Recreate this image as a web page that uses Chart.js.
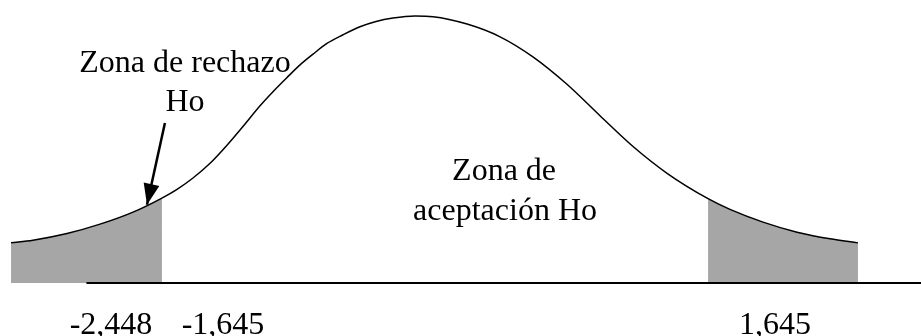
<!DOCTYPE html>
<html lang="es">
<head>
    <meta charset="UTF-8">
    <title>Zona de rechazo Ho</title>
    <script src="https://cdn.jsdelivr.net/npm/chart.js"></script>
    <style>
        html, body { margin: 0; padding: 0; background: #fff; }
        .chart-container { width: 921px; height: 336px; }
    </style>
</head>
<body>

    <div class="chart-container">
        <canvas id="normalChart" width="921" height="336"></canvas>
    </div>

    <script>
        // Curve (z value, height)
        const curveZ = [-2.554, -2.422, -2.217, -2.018, -1.819, -1.645, -1.554, -1.458, -1.355, -1.253, -1.157, -1.054, -0.976, -0.892, -0.813, -0.735, -0.651, -0.554, -0.452, -0.355, -0.253, -0.120, -0.012, 0.193, 0.392, 0.590, 0.795, 0.994, 1.193, 1.398, 1.645, 1.777, 1.976, 2.181, 2.380, 2.548];
        const curveY = [0.060, 0.064, 0.074, 0.088, 0.106, 0.127, 0.140, 0.157, 0.179, 0.206, 0.234, 0.265, 0.286, 0.307, 0.326, 0.342, 0.358, 0.371, 0.383, 0.391, 0.396, 0.399, 0.398, 0.387, 0.368, 0.338, 0.297, 0.250, 0.204, 0.164, 0.126, 0.110, 0.091, 0.076, 0.066, 0.060];

        // Critical values
        const leftCut = -1.645;
        const rightCut = 1.645;

        // Horizontal axis line
        const axisZ = [-2.10, 2.93];

        // Arrow (tail -> tip)
        const arrowZ = [-1.627, -1.735];
        const arrowY = [0.239, 0.117];

        // Labels: text, z, height of baseline
        const labelText = ['Zona de rechazo', 'Ho', 'Zona de', 'aceptación Ho', '-2,448', '-1,645', '1,645'];
        const labelZ = [-1.506, -1.506, 0.416, 0.422, -1.952, -1.277, 2.048];
        const labelY = [0.315, 0.257, 0.154, 0.094, -0.0762, -0.0762, -0.0762];

        const curvePts = curveZ.map((z, i) => ({ x: z, y: curveY[i] }));
        const leftTail = curvePts.filter(p => p.x <= leftCut);
        const rightTail = curvePts.filter(p => p.x >= rightCut);

        // Text + arrowhead
        const extrasPlugin = {
            id: 'extras',
            afterDatasetsDraw(chart) {
                const c = chart.ctx;
                const xs = chart.scales.x, ys = chart.scales.y;

                // arrowhead
                const x0 = xs.getPixelForValue(arrowZ[0]), y0 = ys.getPixelForValue(arrowY[0]);
                const x1 = xs.getPixelForValue(arrowZ[1]), y1 = ys.getPixelForValue(arrowY[1]);
                const ang = Math.atan2(y1 - y0, x1 - x0);
                const len = 21, half = 8;
                c.save();
                c.fillStyle = '#000';
                c.beginPath();
                c.moveTo(x1, y1);
                c.lineTo(x1 - len * Math.cos(ang) + half * Math.sin(ang), y1 - len * Math.sin(ang) - half * Math.cos(ang));
                c.lineTo(x1 - len * Math.cos(ang) - half * Math.sin(ang), y1 - len * Math.sin(ang) + half * Math.cos(ang));
                c.closePath();
                c.fill();

                // labels
                c.font = '32px "Liberation Serif", "Times New Roman", serif';
                c.textAlign = 'center';
                c.textBaseline = 'alphabetic';
                labelText.forEach((t, i) => {
                    c.fillText(t, xs.getPixelForValue(labelZ[i]), ys.getPixelForValue(labelY[i]));
                });
                c.restore();
            }
        };

        const ctx = document.getElementById('normalChart').getContext('2d');
        const normalChart = new Chart(ctx, {
            type: 'line',
            data: {
                datasets: [
                    {
                        // curve
                        data: curvePts,
                        borderColor: '#000',
                        borderWidth: 1.5,
                        pointRadius: 0,
                        cubicInterpolationMode: 'monotone',
                        fill: false,
                        order: 1
                    },
                    {
                        // left rejection tail
                        data: leftTail,
                        borderWidth: 0,
                        borderColor: 'rgba(0,0,0,0)',
                        backgroundColor: '#a6a6a6',
                        pointRadius: 0,
                        cubicInterpolationMode: 'monotone',
                        fill: 'origin',
                        order: 3
                    },
                    {
                        // right rejection tail
                        data: rightTail,
                        borderWidth: 0,
                        borderColor: 'rgba(0,0,0,0)',
                        backgroundColor: '#a6a6a6',
                        pointRadius: 0,
                        cubicInterpolationMode: 'monotone',
                        fill: 'origin',
                        order: 3
                    },
                    {
                        // axis
                        data: axisZ.map(z => ({ x: z, y: 0 })),
                        borderColor: '#000',
                        borderWidth: 2,
                        pointRadius: 0,
                        fill: false,
                        order: 0
                    },
                    {
                        // arrow shaft
                        data: arrowZ.map((z, i) => ({ x: z, y: arrowY[i] })),
                        borderColor: '#000',
                        borderWidth: 2.5,
                        pointRadius: 0,
                        fill: false,
                        order: 0
                    }
                ]
            },
            options: {
                responsive: false,
                animation: false,
                events: [],
                layout: { padding: 0 },
                plugins: {
                    legend: { display: false },
                    tooltip: { enabled: false }
                },
                scales: {
                    x: { type: 'linear', min: -2.6205, max: 2.9277, display: false },
                    y: { type: 'linear', min: -0.0792, max: 0.4230, display: false }
                }
            },
            plugins: [extrasPlugin]
        });
    </script>

</body>
</html>
